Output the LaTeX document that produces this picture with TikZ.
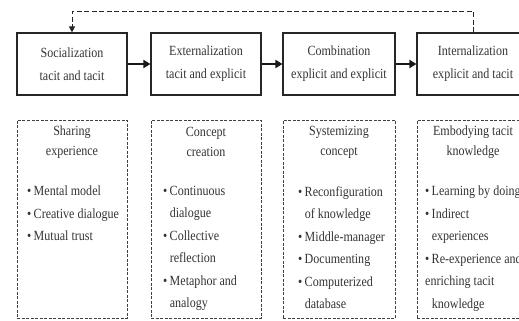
\documentclass[tikz,border=0pt]{standalone}
\usepackage{fontspec}
\setmainfont{Liberation Serif}[FakeStretch=0.86]
\usetikzlibrary{arrows.meta}
\begin{document}
\begin{tikzpicture}[x=1pt,y=-1pt,
  topbox/.style={draw=black!85,line width=1.1pt,minimum width=110pt,minimum height=62pt,inner sep=0pt,align=center,text=black!80,font=\fontsize{14}{23}\selectfont},
  lowbox/.style={draw=black!75,line width=0.9pt,dash pattern=on 3pt off 1.5pt,minimum width=110pt,minimum height=198pt,inner sep=0pt},
  ttl/.style={align=center,inner sep=0pt,text=black!80,font=\fontsize{14}{20}\selectfont},
  items/.style={align=left,inner sep=0pt,anchor=north west,text=black!80,font=\fontsize{14}{22.5}\selectfont},
  flow/.style={-{Triangle[length=7pt,width=8pt]},line width=2pt,black!90},
  fb/.style={-{Triangle[length=6pt,width=6pt]},line width=1pt,dash pattern=on 5pt off 2.5pt,black!85}]
\useasboundingbox (0,0) rectangle (519,321);
\newcommand{\bl}{\textbullet\,}
\newcommand{\ind}{\hphantom{\textbullet\,}}
% top boxes
\node[topbox] (s) at (72,64) {Socialization\\tacit and tacit};
\node[topbox] (e) at (206,64) {Externalization\\tacit and explicit};
\node[topbox,minimum width=112pt] (c) at (339,64) {Combination\\explicit and explicit};
\node[topbox,minimum width=112pt] (i) at (473,64) {Internalization\\explicit and tacit};
\draw[flow] (s.east) -- (e.west);
\draw[flow] (e.east) -- (c.west);
\draw[flow] (c.east) -- (i.west);
\draw[fb] (i.north) -- ++(0,-21) -| (s.north);
% lower boxes
\node[lowbox] (b1) at (72,219) {};
\node[lowbox] (b2) at (206,219) {};
\node[lowbox,minimum width=112pt] (b3) at (339,219) {};
\node[lowbox,minimum width=112pt] (b4) at (473,219) {};
\node[ttl] (t1) at (72,142) {Sharing\\experience};
\node[ttl] (t2) at (206,142) {Concept\\creation};
\node[ttl] (t3) at (339,142) {Systemizing\\concept};
\node[ttl] (t4) at (473,142) {Embodying tacit\\knowledge};
\node[items] (l1) at (27,186) {\bl Mental model\\\bl Creative dialogue\\\bl Mutual trust};
\node[items] (l2) at (163,186) {\bl Continuous\\\ind dialogue\\\bl Collective\\\ind reflection\\\bl Metaphor and\\\ind analogy};
\node[items] (l3) at (298,186) {\bl Reconfiguration\\\ind of knowledge\\\bl Middle-manager\\\bl Documenting\\\bl Computerized\\\ind database};
\node[items] (l4) at (425,186) {\bl Learning by doing\\\bl Indirect\\\ind experiences\\\bl Re-experience and\\enriching tacit\\\ind knowledge};
\end{tikzpicture}
\end{document}
